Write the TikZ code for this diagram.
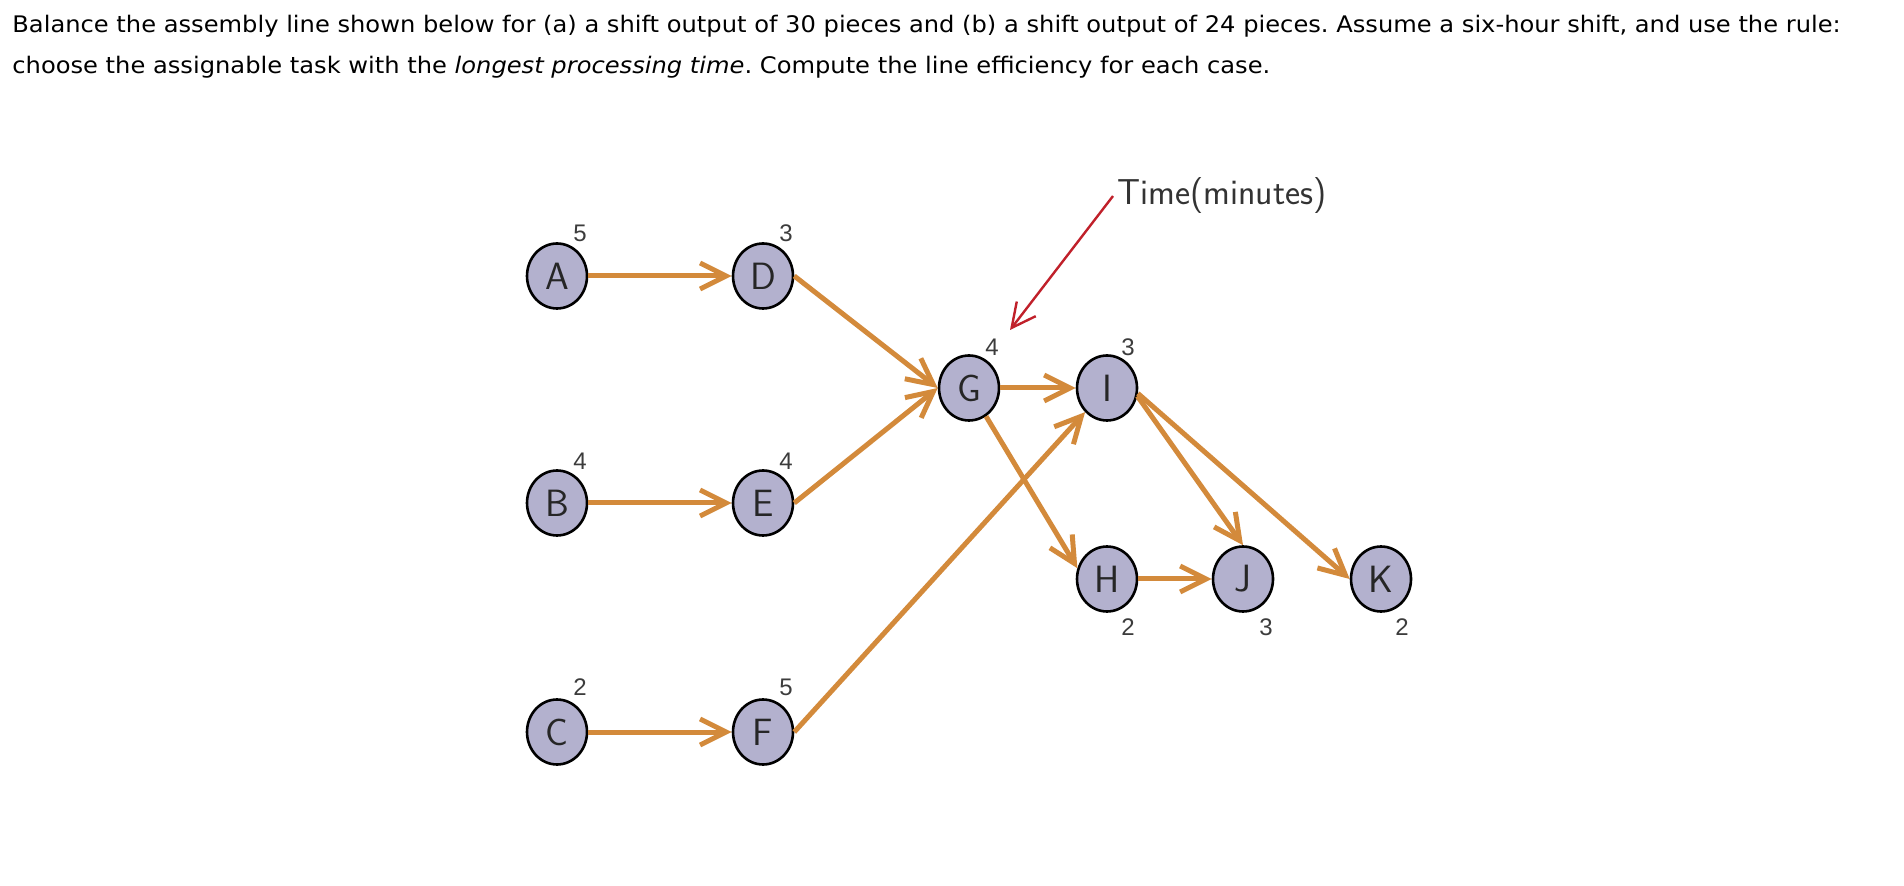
\documentclass[tikz,border=0pt]{standalone}
\usepackage{fontspec}
\setmainfont{DejaVu Sans}[FakeStretch=1.06]
\newfontfamily\numfont{Liberation Sans}
\usetikzlibrary{arrows.meta,calc,shapes.geometric}

\definecolor{taskfill}{RGB}{179,177,206}
\definecolor{linkorange}{RGB}{211,138,59}
\definecolor{notered}{RGB}{192,32,42}
\definecolor{numgray}{RGB}{60,60,60}

\begin{document}
\frenchspacing
\begin{tikzpicture}[x=0.5pt, y=-0.5pt,
    task/.style={ellipse, draw=black, line width=1.3pt, fill=taskfill, minimum width=30pt, minimum height=32.5pt, inner sep=0pt, font=\sffamily\fontsize{19}{19}\selectfont, text=black!85},
    num/.style={font=\numfont\fontsize{12}{12}\selectfont, text=numgray, inner sep=0pt},
    link/.style={draw=linkorange, line width=2.5pt, -{Straight Barb[length=13pt,width=13pt]}},
    pointer/.style={draw=notered, line width=1.2pt, -{Straight Barb[length=12pt,width=12pt]}},
    prompt/.style={anchor=base west, inner sep=0pt, font=\fontsize{11.4}{13}\selectfont}
]
\useasboundingbox (0,0) rectangle (1904,886);

% Question text
\node[prompt] (line1) at (12,33) {Balance the assembly line shown below for (a) a shift output of 30 pieces and (b) a shift output of 24 pieces. Assume a six-hour shift, and use the rule:};
\node[prompt] (line2) at (12,74) {choose the assignable task with the \textit{longest processing time}. Compute the line efficiency for each case.};

% Tasks
\node[task] (A) at (557,276) {A};
\node[task] (D) at (763,276) {D};
\node[task] (B) at (557,503) {B};
\node[task] (E) at (763,503) {E};
\node[task] (C) at (557,732) {C};
\node[task] (F) at (763,732) {F};
\node[task] (G) at (969,388) {G};
\node[task] (I) at (1107,388) {I};
\node[task] (H) at (1107,579) {H};
\node[task] (J) at (1243,579) {J};
\node[task] (K) at (1381,579) {K};

% Task times
\node[num] at ($(A)+(23,-43)$) {5};
\node[num] at ($(D)+(23,-43)$) {3};
\node[num] at ($(B)+(23,-42)$) {4};
\node[num] at ($(E)+(23,-42)$) {4};
\node[num] at ($(C)+(23,-45)$) {2};
\node[num] at ($(F)+(23,-45)$) {5};
\node[num] at ($(G)+(23,-41)$) {4};
\node[num] at ($(I)+(21,-41)$) {3};
\node[num] at ($(H)+(21,48)$) {2};
\node[num] at ($(J)+(23,48)$) {3};
\node[num] at ($(K)+(21,48)$) {2};

% Precedence
\draw[link] (A) -- (D);
\draw[link] (B) -- (E);
\draw[link] (C) -- (F);
\draw[link] (D.east) -- (G.west);
\draw[link] (E.east) -- (G.west);
\draw[link] (F.east) -- (I);
\draw[link] (G) -- (I);
\draw[link] (G) -- (H.160);
\draw[link] (H) -- (J);
\draw[link] (I.-15) -- (J.north);
\draw[link] (I.-10) -- (K.west);

% Time note
\node[anchor=base west, inner sep=2pt, font=\sffamily\fontsize{18}{18}\selectfont, text=black!80] (time) at (1113,205) {Time(minutes)};
\coordinate (Gtip) at (1010,330);
\draw[pointer] (time.west) -- (Gtip);

\end{tikzpicture}
\end{document}
